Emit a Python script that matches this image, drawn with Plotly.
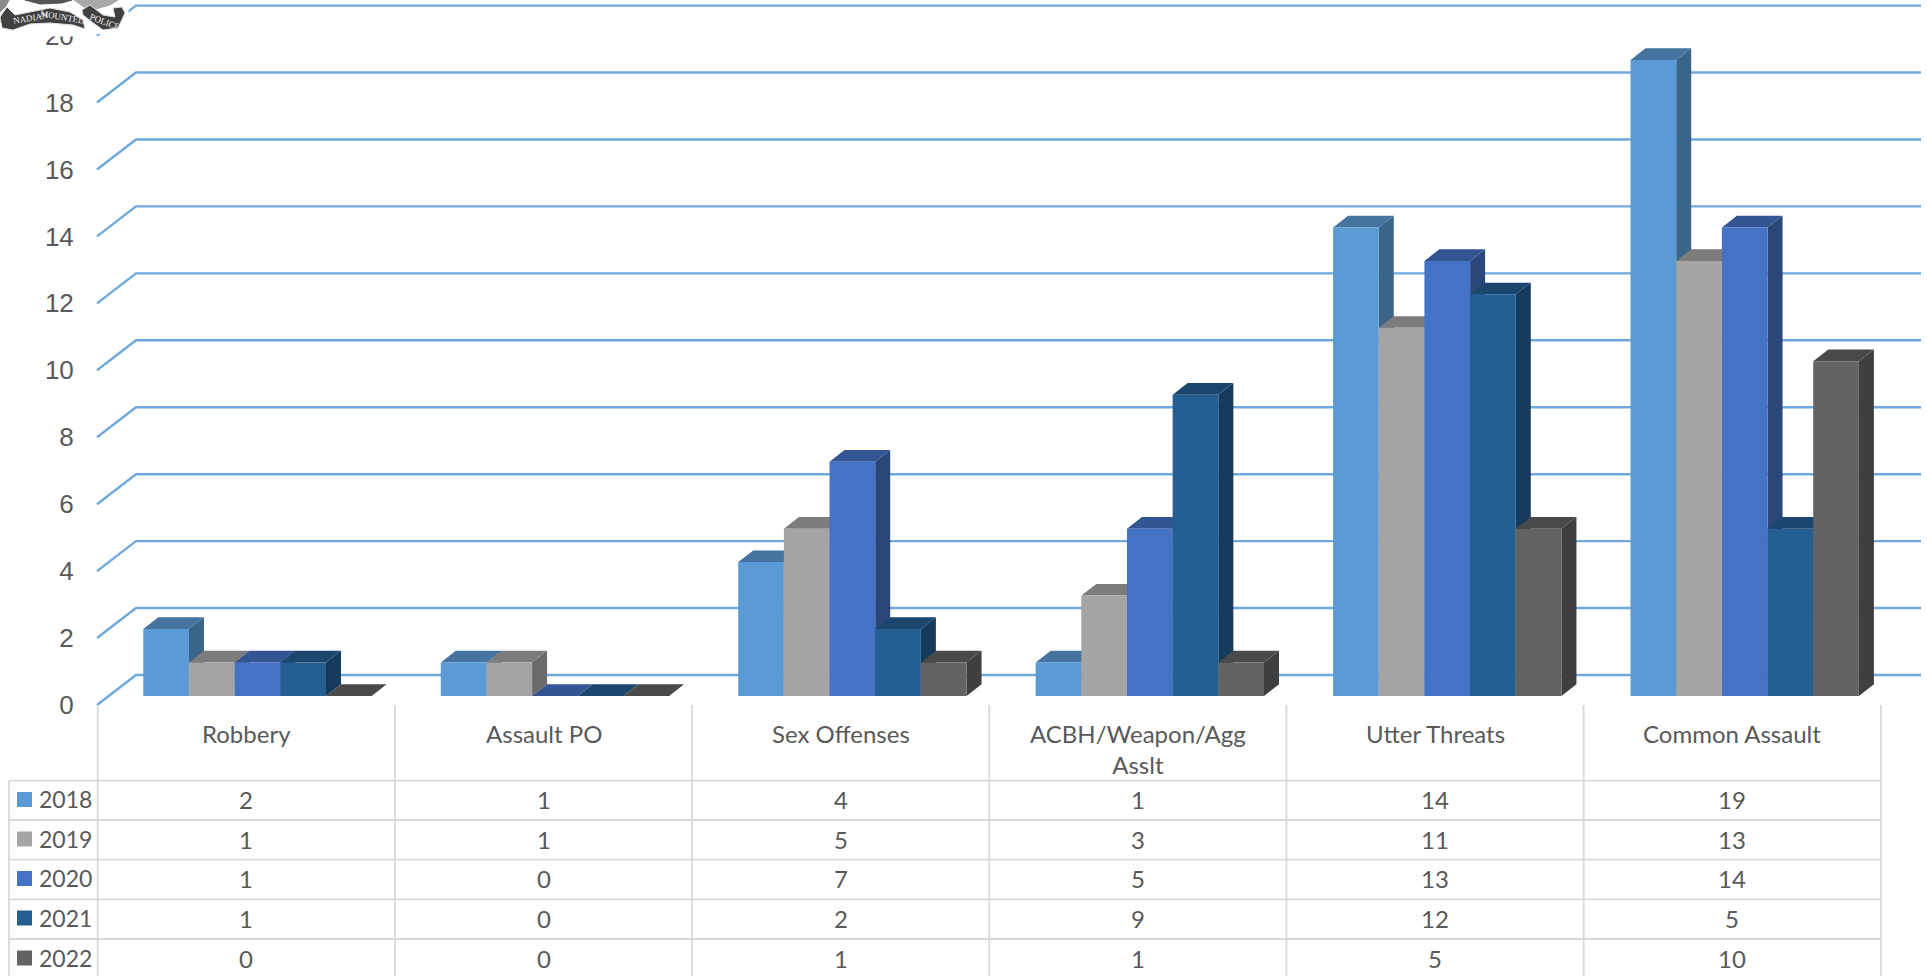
import plotly.graph_objects as go

categories = ["Robbery", "Assault PO", "Sex Offenses", "ACBH/Weapon/Agg<br>Asslt", "Utter Threats", "Common Assault"]
years = ["2018", "2019", "2020", "2021", "2022"]
v2018 = [2, 1, 4, 1, 14, 19]
v2019 = [1, 1, 5, 3, 11, 13]
v2020 = [1, 0, 7, 5, 13, 14]
v2021 = [1, 0, 2, 9, 12, 5]
v2022 = [0, 0, 1, 1, 5, 10]
series = [v2018, v2019, v2020, v2021, v2022]
y_ticks = list(range(0, 21, 2))

front_colors = ["#5B9BD5", "#A5A5A5", "#4472C4", "#255E91", "#636363"]
top_colors = ["#44749F", "#7C7C7C", "#335593", "#1B466D", "#4A4A4A"]
side_colors = ["#3A6488", "#6A6A6A", "#2B4779", "#163A5C", "#3F3F3F"]
grid_color = "#6FA9DE"
text_color = "#595959"
line_color = "#D9D9D9"

W, H = 1927, 976
COL = 297.45           # px per category for the bars
TABLE_COL = 297.2      # px per table column
CX0 = 246.3            # px of first category centre
UNIT = 33.47           # px per value unit
BASE = 696.0           # px of the front baseline
BAR_W = 45.67 / COL
BAR_START = (143.3 - CX0) / COL
DX, DY = 15.0 / COL, 11.7 / UNIT
WALL_BACK = (BASE - 675.0) / UNIT
WALL_FRONT = (BASE - 705.0) / UNIT


def ax(px):
    return (px - CX0) / COL


xr = [ax(0), ax(W)]
yr = [(BASE - H) / UNIT, BASE / UNIT]
X = lambda px: px / W
Y = lambda py: 1 - py / H

fig = go.Figure()

# back wall grid lines with their diagonal on the left side wall
for v in y_ticks:
    fig.add_trace(go.Scatter(
        x=[ax(97), ax(136), ax(1921)],
        y=[v + WALL_FRONT, v + WALL_BACK, v + WALL_BACK],
        mode="lines", line=dict(color=grid_color, width=2.4),
        showlegend=False, hoverinfo="skip", cliponaxis=False))

# depth faces, painted left to right
for k, vals in enumerate(series):
    sx, sy, tx, ty = [], [], [], []
    for i, v in enumerate(vals):
        x0 = i + BAR_START + k * BAR_W
        x1 = x0 + BAR_W
        sx += [x1, x1 + DX, x1 + DX, x1, x1, None]
        sy += [0, DY, v + DY, v, 0, None]
        tx += [x0, x0 + DX, x1 + DX, x1, x0, None]
        ty += [v, v + DY, v + DY, v, v, None]
    fig.add_trace(go.Scatter(x=sx, y=sy, mode="lines", fill="toself", fillcolor=side_colors[k],
                             line=dict(width=0, color=side_colors[k]), showlegend=False, hoverinfo="skip"))
    fig.add_trace(go.Scatter(x=tx, y=ty, mode="lines", fill="toself", fillcolor=top_colors[k],
                             line=dict(width=0, color=top_colors[k]), showlegend=False, hoverinfo="skip"))

# front faces on the overlay axes, above every depth face
for k, vals in enumerate(series):
    fig.add_trace(go.Bar(
        x=list(range(len(categories))), y=vals, name=years[k],
        offset=BAR_START + k * BAR_W, width=BAR_W,
        marker=dict(color=front_colors[k], line=dict(width=0)),
        xaxis="x2", yaxis="y2", showlegend=False))

shapes = []
annotations = []


def hline(py, x0, x1):
    shapes.append(dict(type="line", xref="paper", yref="paper", x0=X(x0), x1=X(x1), y0=Y(py), y1=Y(py),
                       line=dict(color=line_color, width=1.8)))


def vline(px, y0, y1):
    shapes.append(dict(type="line", xref="paper", yref="paper", x0=X(px), x1=X(px), y0=Y(y0), y1=Y(y1),
                       line=dict(color=line_color, width=1.8)))


TABLE_L = 9.0
TABLE_X0 = CX0 - TABLE_COL / 2
row_lines = [780.7, 820.0, 859.7, 899.3, 939.0]
row_mid = [799.5, 839.0, 878.5, 918.0, 958.0]
for py in row_lines:
    hline(py, TABLE_L, TABLE_X0 + TABLE_COL * len(categories))
vline(TABLE_L, 780.7, H)
for i in range(len(categories) + 1):
    vline(TABLE_X0 + TABLE_COL * i, 705, H)

TXT = dict(family="Lato", size=24, color=text_color)
YEAR_TXT = dict(family="Lato", size=23, color=text_color)
for i, c in enumerate(categories):
    annotations.append(dict(text=c, xref="paper", yref="paper", x=X(CX0 + TABLE_COL * i), y=Y(717),
                            yanchor="top", xanchor="center", showarrow=False, font=TXT, align="center"))
for k, vals in enumerate(series):
    annotations.append(dict(text=years[k], xref="paper", yref="paper", x=X(36.5), y=Y(row_mid[k] - 0.5),
                            xanchor="left", yanchor="middle", showarrow=False, font=YEAR_TXT))
    shapes.append(dict(type="rect", xref="paper", yref="paper", x0=X(17), x1=X(32),
                       y0=Y(row_mid[k] - 7.5), y1=Y(row_mid[k] + 7.5),
                       fillcolor=front_colors[k], line=dict(width=0)))
    for i, v in enumerate(vals):
        annotations.append(dict(text=str(v), xref="paper", yref="paper", x=X(CX0 + TABLE_COL * i), y=Y(row_mid[k]),
                                xanchor="center", yanchor="middle", showarrow=False, font=TXT))


# crest fragment at the top-left corner
def path(points):
    return "M" + " L".join(f"{X(a):.5f},{Y(b):.5f}" for a, b in points) + " Z"


crest = [
    ([(0, 0), (128, 0), (128, 32), (90, 34), (75, 36), (40, 36), (10, 34), (0, 34)], "#FFFFFF", "#FFFFFF"),
    ([(0, 0), (9, 0), (6, 6), (0, 12)], "#8C8C8C", "#8C8C8C"),
    ([(25, 0), (72, 0), (62, 3), (40, 4)], "#555555", "#555555"),
    ([(74, 0), (118, 0), (110, 5), (96, 9), (84, 7)], "#A8A8A8", "#A8A8A8"),
    ([(0, 17), (7, 7), (15, 15), (30, 12), (50, 8), (70, 12), (83, 20), (85, 29), (73, 25), (50, 23), (30, 24), (13, 30), (2, 28)],
     "#404040", "#DDDDDD"),
    ([(82, 10), (90, 5), (103, 15), (115, 17), (113, 8), (122, 7), (125, 13), (118, 28), (103, 30), (92, 22), (83, 15)],
     "#404040", "#DDDDDD"),
]
for pts, fill, edge in crest:
    shapes.append(dict(type="path", xref="paper", yref="paper", path=path(pts), fillcolor=fill,
                       line=dict(color=edge, width=1), layer="above"))
for text, px, py, rot in [("NADIAN", 31, 18, -10), ("MOUNTED", 62, 17, 10), ("POLICE", 105, 22, 20)]:
    annotations.append(dict(text=text, xref="paper", yref="paper", x=X(px), y=Y(py), showarrow=False,
                            xanchor="center", yanchor="middle", textangle=rot,
                            font=dict(family="Liberation Serif", size=9, color="#F0F0F0")))

hidden = dict(visible=False, showgrid=False, zeroline=False, fixedrange=True)
fig.update_layout(
    width=W, height=H, margin=dict(l=0, r=0, t=0, b=0), autosize=False,
    paper_bgcolor="white", plot_bgcolor="white", barmode="overlay",
    showlegend=False, shapes=shapes, annotations=annotations,
    xaxis=dict(range=xr, domain=[0, 1], **hidden),
    yaxis=dict(range=yr, domain=[0, 1], anchor="free", position=X(97), side="left",
               tickvals=[v + WALL_FRONT for v in y_ticks], ticktext=[str(v) for v in y_ticks],
               ticks="outside", ticklen=18, tickcolor="rgba(0,0,0,0)", showline=False,
               showgrid=False, zeroline=False, fixedrange=True,
               tickfont=dict(family="Liberation Sans", size=26, color=text_color)),
    xaxis2=dict(range=xr, overlaying="x", matches=None, **hidden),
    yaxis2=dict(range=yr, overlaying="y", **hidden),
)
fig.write_html("out.html", config=dict(displayModeBar=False),
               post_script="document.body.style.margin='0';document.body.style.overflow='hidden';")
